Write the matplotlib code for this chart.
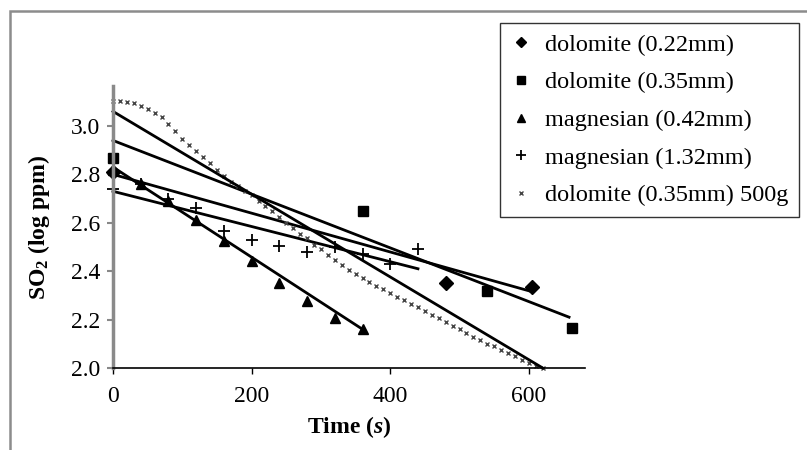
import numpy as np
import matplotlib
matplotlib.use("Agg")
import matplotlib.pyplot as plt
from matplotlib.patches import Rectangle

plt.rcParams["font.family"] = ["Liberation Serif", "DejaVu Serif"]
plt.rcParams["mathtext.fontset"] = "custom"
plt.rcParams["mathtext.rm"] = "Liberation Serif"
plt.rcParams["mathtext.bf"] = "Liberation Serif:bold"
plt.rcParams["mathtext.bfit"] = "Liberation Serif:bold:italic"
plt.rcParams["mathtext.it"] = "Liberation Serif:italic"

# dolomite (0.22mm)
dol22_t = [0, 480, 605]
dol22_y = [2.81, 2.35, 2.335]
# dolomite (0.35mm)
dol35_t = [0, 360, 540, 662]
dol35_y = [2.868, 2.65, 2.32, 2.165]
# magnesian (0.42mm)
mag42_t = [0, 40, 80, 120, 160, 200, 240, 280, 320, 360]
mag42_y = [2.82, 2.76, 2.69, 2.61, 2.525, 2.44, 2.35, 2.275, 2.205, 2.16]
# magnesian (1.32mm)
mag132_t = [0, 40, 80, 120, 160, 200, 240, 280, 320, 360, 400, 440]
mag132_y = [2.74, 2.76, 2.70, 2.66, 2.565, 2.53, 2.505, 2.48, 2.50, 2.47, 2.43, 2.49]
# dolomite (0.35mm) 500g
dol500_t = list(range(0, 630, 10))
dol500_y = [3.105, 3.105, 3.10, 3.093, 3.083, 3.07, 3.055, 3.035, 3.01, 2.98,
            2.945, 2.92, 2.895, 2.87, 2.845, 2.82, 2.795, 2.77, 2.75, 2.73,
            2.715, 2.69, 2.67, 2.65, 2.625, 2.60, 2.58, 2.555, 2.535, 2.51,
            2.49, 2.465, 2.445, 2.425, 2.405, 2.39, 2.37, 2.355, 2.34, 2.325,
            2.31, 2.295, 2.28, 2.265, 2.25, 2.235, 2.22, 2.205, 2.19, 2.175,
            2.16, 2.145, 2.13, 2.115, 2.10, 2.09, 2.075, 2.06, 2.05, 2.035,
            2.02, 2.01, 2.0]

# linear trendlines: value at t=0 and at the end
trend_x1 = [605, 658, 360, 440, 620]
trend_y0 = [2.80, 2.94, 2.83, 2.73, 3.06]
trend_y1 = [2.315, 2.21, 2.16, 2.41, 2.0]

labels = ["dolomite (0.22mm)", "dolomite (0.35mm)", "magnesian (0.42mm)",
          "magnesian (1.32mm)", "dolomite (0.35mm) 500g"]

W, H = 807, 450
fig = plt.figure(figsize=(W / 100, H / 100), dpi=100)
ax = fig.add_axes([113 / W, 1 - 368 / H, (585 - 113) / W, (368 - 86) / H])

series = [
    (dol22_t, dol22_y, dict(marker="D", ms=7, color="black")),
    (dol35_t, dol35_y, dict(marker="s", ms=6.5, color="black")),
    (mag42_t, mag42_y, dict(marker="^", ms=7.5, color="black")),
    (mag132_t, mag132_y, dict(marker="+", ms=9, mew=1.3, color="black")),
    (dol500_t, dol500_y, dict(marker="x", ms=3.5, mew=1.0, color="#444444")),
]
handles = []
for i, ((t, y, st), lab) in enumerate(zip(series, labels)):
    h, = ax.plot(t, y, ls="none", label=lab, clip_on=False, **st)
    handles.append(h)
    ax.plot([0, trend_x1[i]], [trend_y0[i], trend_y1[i]], color="black",
            lw=2.0, clip_on=False)

ax.set_xlim(0, 681)
ax.set_ylim(2.0, 3.165)
ax.set_xticks([0, 200, 400, 600])
ax.set_yticks([2.0, 2.2, 2.4, 2.6, 2.8, 3.0])
ax.set_yticklabels(["2.0", "2.2", "2.4", "2.6", "2.8", "3.0"])
ax.tick_params(axis="both", labelsize=17, length=4, direction="out")
ax.tick_params(axis="y", color="#888888", width=1.5, pad=5)
ax.tick_params(axis="x", color="black", width=1.0, pad=9)
for s in ["top", "right"]:
    ax.spines[s].set_visible(False)
ax.spines["left"].set_color("#8a8a8a")
ax.spines["left"].set_linewidth(2.5)
ax.spines["bottom"].set_color("black")
ax.spines["bottom"].set_linewidth(1.2)

ax.set_xlabel("Time ($\\mathbfit{s}$)", fontsize=17, fontweight="bold", labelpad=5)
ax.set_ylabel("SO$_\\mathbf{2}$ (log ppm)", fontsize=17, fontweight="bold", labelpad=14)

leg = fig.legend(handles=handles, labels=labels, loc="upper left",
                 bbox_to_anchor=(500 / W, 1 - 23 / H), fontsize=17.5,
                 frameon=True, fancybox=False, edgecolor="black",
                 handlelength=0.8, handletextpad=0.6, labelspacing=0.64,
                 borderpad=0.45, borderaxespad=0, markerscale=0.8)
leg.get_frame().set_linewidth(1.0)

# outer chart-area border (runs off the right and bottom edges)
fig.patches.append(Rectangle((10 / W, -0.1), 1.2, 1 - 11 / H + 0.1,
                             transform=fig.transFigure, fill=False,
                             edgecolor="#8c8c8c", lw=1.8))

fig.savefig("out.png", dpi=100)
